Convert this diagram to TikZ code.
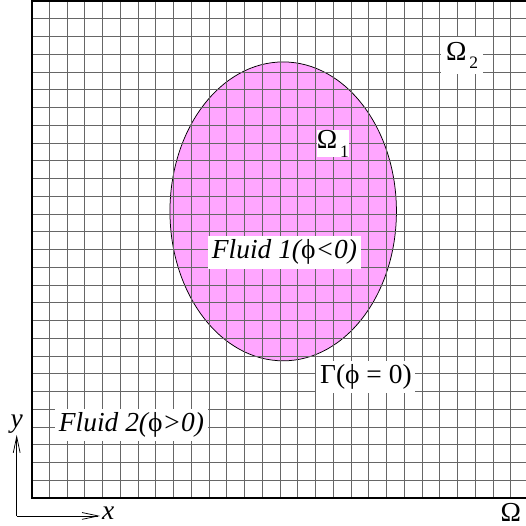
\documentclass[tikz,border=0pt]{standalone}
\usepackage{fontspec}
\setmainfont{Liberation Serif}
\usetikzlibrary{arrows.meta}
\definecolor{dropfill}{RGB}{255,166,255}
\newcommand{\bigfont}{\fontsize{22}{24}\selectfont}
\newcommand{\subfont}{\fontsize{14}{14}\selectfont}
\begin{document}
\begin{tikzpicture}[x=0.5cm, y=0.5cm,
        mesh/.style={black!60, line width=0.8pt, step=0.5cm},
        wall/.style={black, line width=1.6pt},
        drop/.style={draw=black, fill=dropfill, line width=0.6pt},
        tag/.style={fill=white, inner sep=1pt, font=\bigfont},
        fluidbox/.style={fill=white, inner sep=3pt, font=\bigfont\itshape},
        arrow/.style={line width=0.6pt, -{Straight Barb[length=13pt, width=5.5pt]}}
    ]
        \useasboundingbox (-1.786,-1.56) rectangle (27.85,28.07);

        % droplet and mesh
        \draw[drop] (14.17,16.16) ellipse [x radius=6.38, y radius=8.42];
        \draw[mesh] (0,0) grid (28,28);
        \draw[wall] (0,0) rectangle (28,28);

        % labels
        \node[tag, inner sep=4pt] (omegaTwo) at (24.25,24.94) {Ω\raisebox{-7pt}{\subfont\,2}};
        \node[tag, inner sep=0pt] (omegaOne) at (16.97,19.96) {Ω\raisebox{-7pt}{\subfont\,1}};
        \node[fluidbox] (fluidOne) at (14.24,13.85) {Fluid 1({\upshape ϕ}<0)};
        \node[fluidbox, font=\bigfont] (interface) at (18.83,6.84) {Γ(ϕ = 0)};
        \node[fluidbox] (fluidTwo) at (5.62,4.13) {Fluid 2({\upshape ϕ}>0)};
        \node[font=\bigfont, anchor=base, inner sep=1pt] (omega) at (27.0,-1.30) {Ω};

        % axes
        \coordinate (origin) at (-0.845,-1.0);
        \coordinate (xTip) at (3.85,-1.0);
        \coordinate (yTip) at (-0.845,3.57);
        \draw[arrow] (origin) -- (xTip);
        \draw[arrow] (origin) -- (yTip);
        \node[font=\bigfont\itshape, anchor=base west, inner sep=0pt] (xLabel) at (3.95,-1.2) {x};
        \node[font=\bigfont\itshape, anchor=south, inner sep=1pt] (yLabel) at (yTip) {y};
    \end{tikzpicture}
\end{document}
